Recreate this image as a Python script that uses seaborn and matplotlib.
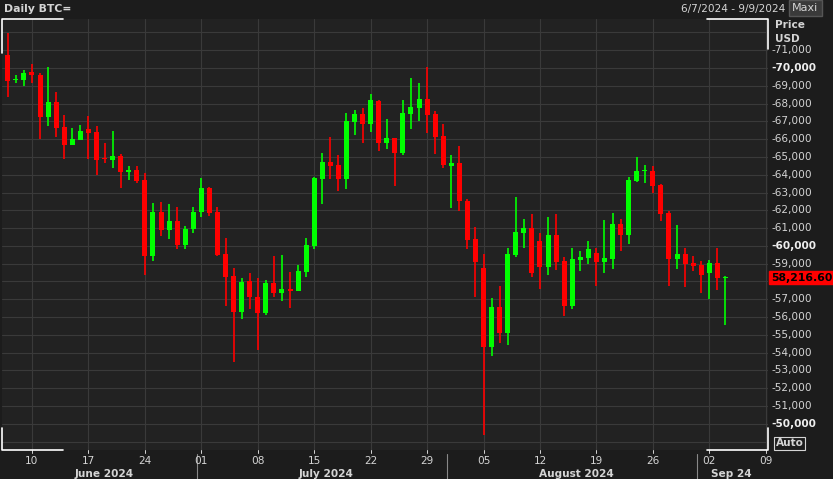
import numpy as np
import pandas as pd
import seaborn as sns
import matplotlib.pyplot as plt
import matplotlib.dates as mdates

# daily BTC candles, 2024-06-07 .. 2024-09-04
opens = [70730, 69300, 69340, 69780, 69600, 67260, 68090, 66680, 65690, 65970,
         66570, 66400, 64950, 64850, 65060, 64150, 64270, 63700, 59450, 61910,
         60910, 61400, 60050, 60950, 61910, 63260, 61910, 59550, 58310, 56310,
         58030, 57130, 56250, 57920, 57370, 57560, 57490, 58560, 60010, 63780,
         64720, 64550, 63780, 66980, 67420, 66870, 68130, 65800, 66070, 65240,
         67420, 67770, 68260, 67420, 66180, 64510, 64660, 62540, 60390, 58780,
         54340, 56570, 55130, 59490, 60750, 61010, 60280, 58840, 60620, 59160,
         56650, 59230, 59340, 59610, 59070, 59290, 61240, 60640, 63670, 64200,
         64210, 63430, 61870, 59290, 59550, 59020, 58930, 58500, 59060, 58210]
closes = [69290, 69380, 69720, 69620, 67260, 68090, 66640, 65690, 66010, 66460,
          66360, 64850, 64900, 65060, 64180, 64270, 63670, 59450, 61910, 60910,
          61400, 60050, 60950, 61910, 63260, 61850, 59490, 58270, 56310, 57970,
          57100, 56250, 57920, 57370, 57560, 57450, 58590, 60050, 63840, 64720,
          64510, 63780, 67020, 67420, 66870, 68180, 65800, 66070, 65240, 67470,
          67810, 68260, 67380, 66140, 64550, 64660, 62540, 60350, 59120, 54340,
          56570, 55130, 59550, 60790, 61010, 58500, 58840, 60620, 59120, 56650,
          59270, 59380, 59830, 59070, 59330, 61240, 60640, 63710, 64210, 64260,
          63390, 61810, 59290, 59550, 59000, 58890, 58380, 59060, 58220, 58217]
highs = [71950, 69590, 69890, 70225, 69700, 70060, 68650, 67360, 66630, 66780,
         67300, 66740, 65770, 66460, 65150, 64510, 64510, 64100, 62410, 62490,
         62360, 62190, 61120, 62200, 63820, 63300, 62190, 60450, 58760, 58200,
         58480, 58200, 58100, 59450, 59490, 58540, 58940, 60430, 63890, 65220,
         66100, 65110, 67450, 67640, 67750, 68540, 68200, 67130, 66070, 68200,
         69440, 69160, 70060, 67580, 66860, 65110, 65620, 62660, 61070, 59570,
         57070, 57750, 59890, 62730, 61510, 61800, 60750, 61630, 61800, 59360,
         59900, 59720, 60280, 59900, 61460, 61850, 61530, 63880, 64980, 64550,
         64500, 63490, 61960, 61160, 59900, 59450, 59170, 59230, 59890, 58300]
lows = [68350, 69140, 69000, 69160, 66010, 66760, 66120, 64900, 65670, 65970,
        64900, 64000, 64650, 64400, 63270, 63730, 63520, 58370, 59170, 60560,
        60410, 59830, 59830, 60700, 61640, 61700, 59450, 56620, 53500, 55910,
        56470, 54170, 56100, 57100, 56930, 56530, 57450, 58260, 59850, 62360,
        63780, 63110, 63220, 66250, 65800, 66400, 65350, 65470, 63390, 65130,
        66590, 67040, 66360, 65180, 64400, 62150, 61980, 59850, 57150, 49380,
        53830, 54560, 54450, 59400, 59900, 58270, 57600, 58390, 58650, 56080,
        56450, 58610, 59000, 57770, 58500, 58720, 59740, 60120, 63600, 63520,
        63000, 61380, 57770, 58720, 57680, 58610, 57370, 57040, 57530, 55580]
dates = pd.date_range("2024-06-07", periods=len(opens), freq="D")
last_price = 58216.60

df = pd.DataFrame({"date": dates, "open": opens, "close": closes,
                   "high": highs, "low": lows})
df["up"] = df["close"] >= df["open"]

sns.set_theme(style="dark")
plt.rcParams['font.family'] = ['DejaVu Sans']

BG = "#1c1c1c"
PANEL = "#222222"
GRID = "#3a3a3a"
TXT = "#d4d4d4"
GREEN = "#00ff00"
RED = "#ff0000"

fig = plt.figure(figsize=(8.33, 4.79), dpi=100, facecolor=BG)
ax = fig.add_axes([2 / 833, 29 / 479, 766 / 833, 431 / 479])
ax.set_facecolor(PANEL)

x = mdates.date2num(df["date"])
colors = np.where(df["up"], GREEN, RED)
ax.vlines(x, df["low"], df["high"], colors=colors, linewidth=1.2, zorder=3)
body_lo = np.minimum(df["open"], df["close"])
body_h = np.maximum(np.abs(df["close"] - df["open"]), 60)
ax.bar(x, body_h, bottom=body_lo, width=0.62, color=colors, zorder=4,
       linewidth=0)

x0 = mdates.date2num(pd.Timestamp("2024-06-07")) - 0.72
ax.set_xlim(x0, x0 + 95)
ax.set_ylim(48530, 72750)

# grid
mondays = pd.date_range("2024-06-10", "2024-09-09", freq="7D")
for m in mondays:
    ax.axvline(mdates.date2num(m), color=GRID, lw=0.8, zorder=1)
for p in range(49000, 73000, 1000):
    ax.axhline(p, color=GRID, lw=0.8, zorder=1)
ax.grid(False)
for s in ax.spines.values():
    s.set_visible(False)

ax.set_xticks([])
ax.set_yticks([])

# y tick labels on the right
for p in range(50000, 72000, 1000):
    bold = p % 10000 == 0
    ax.text(1.004, p, f"-{p:,}", transform=ax.get_yaxis_transform(),
            color="#eeeeee" if bold else TXT, fontsize=7.6,
            fontweight="bold" if bold else "normal", va="center", ha="left")
fig.text(775 / 833, 1 - 25 / 479, "Price", color=TXT, fontsize=7.6,
         fontweight="bold", va="center")
fig.text(775 / 833, 1 - 39 / 479, "USD", color=TXT, fontsize=7.6,
         fontweight="bold", va="center")
ax.text(1.004, last_price, f"{last_price:,.2f}", transform=ax.get_yaxis_transform(),
        color="black", fontsize=7.8, fontweight="bold", va="center", ha="left",
        bbox=dict(boxstyle="square,pad=0.15", fc=RED, ec=RED))
ax.text(1.01, 48900, "Auto", transform=ax.get_yaxis_transform(), color=TXT,
        fontsize=7.6, fontweight="bold", va="center", ha="left",
        bbox=dict(boxstyle="square,pad=0.15", fc=BG, ec=TXT, lw=0.8))

# x labels
for m in pd.date_range("2024-06-10", "2024-09-09", freq="7D"):
    ax.text(mdates.date2num(m), -0.015, m.strftime("%d"),
            transform=ax.get_xaxis_transform(), color=TXT, fontsize=7.6,
            ha="center", va="top")
    ax.plot([mdates.date2num(m)] * 2, [-0.008, 0], color=TXT, lw=0.7,
            transform=ax.get_xaxis_transform(), clip_on=False)
months = [("June 2024", "2024-06-07", "2024-07-01"),
          ("July 2024", "2024-07-01", "2024-08-01"),
          ("August 2024", "2024-08-01", "2024-09-01"),
          ("Sep 24", "2024-09-01", "2024-09-12")]
for name, a, b in months:
    xa = mdates.date2num(pd.Timestamp(a))
    xb = mdates.date2num(pd.Timestamp(b))
    mid = (max(xa, x0) + min(xb, x0 + 95)) / 2
    if name == "Sep 24":
        mid = xa + 3.7
    ax.text(mid, -0.044, name, transform=ax.get_xaxis_transform(), color=TXT,
            fontsize=7.6, fontweight="bold", ha="center", va="top")
    if a != "2024-06-07":
        ax.plot([xa - 0.5] * 2, [-0.01, -0.07], color="#888888", lw=0.8,
                transform=ax.get_xaxis_transform(), clip_on=False)

# white corner marks
ax.plot([0, 0, 0.08], [0.05, 0.0, 0.0], color="white", lw=1.2,
        transform=ax.transAxes, clip_on=False)
ax.plot([0, 0, 0.08], [0.92, 1.0, 1.0], color="white", lw=1.2,
        transform=ax.transAxes, clip_on=False)
ax.plot([0.92, 1.0, 1.0], [1.0, 1.0, 0.93], color="white", lw=1.2,
        transform=ax.transAxes, clip_on=False)
ax.plot([0.92, 1.0, 1.0], [0.0, 0.0, 0.05], color="white", lw=1.2,
        transform=ax.transAxes, clip_on=False)

fig.text(4 / 833, 1 - 9 / 479, "Daily BTC=", color=TXT, fontsize=7.8,
         fontweight="bold", va="center")
fig.text(785 / 833, 1 - 9 / 479, "6/7/2024 - 9/9/2024", color=TXT, fontsize=7.6,
         va="center", ha="right")
fig.text(792 / 833, 1 - 8 / 479, "Maxi", color=TXT, fontsize=8, va="center",
         ha="left", bbox=dict(boxstyle="square,pad=0.3", fc="#3a3a3a",
                              ec="#555555"))

fig.savefig("out.png", dpi=100, facecolor=BG)
